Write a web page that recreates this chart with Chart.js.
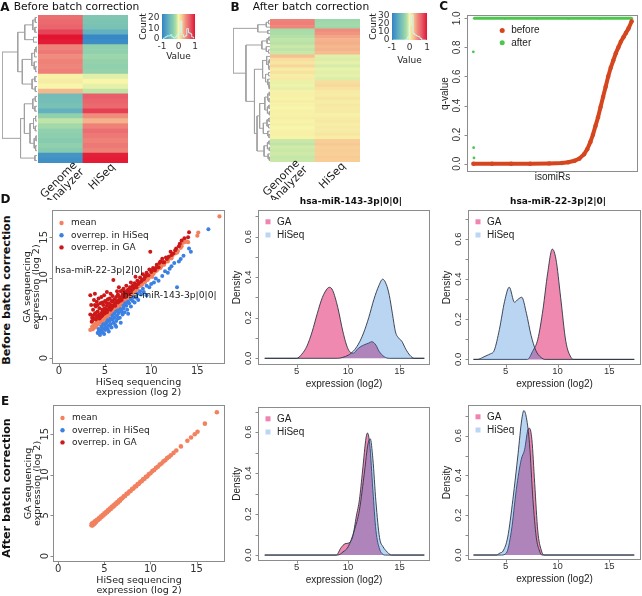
<!DOCTYPE html>
<html>
<head>
<meta charset="utf-8">
<title>Batch correction of isomiR expression</title>
<script src="https://cdn.jsdelivr.net/npm/chart.js@4.4.1/dist/chart.umd.min.js"></script>
<style>
  html, body { margin: 0; padding: 0; background: #fff; }
  #fig { position: relative; width: 642px; height: 596px; overflow: hidden; background: #fff; }
  #fig canvas { position: absolute; }
  .lbl { position: absolute; white-space: nowrap; color: #111; line-height: 1; }
</style>
</head>
<body>
<div id="fig"></div>
<script>
// ---------- data ----------

// heatmaps: scaled value per isomiR row (top to bottom), one array per sequencer
const heatCols = ['Genome Analyzer', 'HiSeq'];
const heatA_GA    = [0.6, 0.62, 0.65, 0.8, 1.0, 0.97, 0.5, 0.55, 0.45, 0.5, 0.48, 0.52, 0.02, 0.05, 0.0, 0.28,
                     -0.5, -0.48, -0.45, -0.62, -0.3, -0.12, -0.22, -0.3, -0.32, -0.35, -0.3, -0.35, -0.85, -0.88];
const heatA_HiSeq = [-0.4, -0.42, -0.45, -0.62, -0.95, -0.92, -0.3, -0.3, -0.25, -0.28, -0.3, -0.28, -0.05, 0.0, -0.04, -0.12,
                     0.68, 0.65, 0.62, 0.82, 0.45, 0.3, 0.5, 0.6, 0.55, 0.5, 0.55, 0.5, 0.95, 0.97];
const heatB_GA    = [0.5, 0.52, 0.48, -0.2, -0.18, -0.15, -0.12, -0.14, -0.1, -0.12, -0.1, 0.25, 0.12, 0.08, 0.15,
                     0.05, 0.1, 0.04, 0.06, -0.03, -0.02, -0.04, 0.02, 0.03, 0.01, 0.04, 0.02, 0.0, 0.03, 0.02,
                     0.04, 0.01, 0.03, 0.0, 0.02, 0.03, 0.01, -0.1, -0.12, -0.08, -0.1, -0.09, -0.11, -0.1];
const heatB_HiSeq = [-0.25, -0.22, -0.24, 0.45, 0.42, 0.35, 0.3, 0.32, 0.28, 0.3, 0.27, -0.05, -0.06, -0.04, -0.07,
                     -0.03, -0.05, -0.04, -0.06, 0.12, 0.14, 0.1, 0.06, 0.05, 0.08, 0.04, 0.07, 0.05, 0.06, 0.03,
                     0.05, 0.07, 0.04, 0.06, 0.05, 0.08, 0.04, 0.2, 0.22, 0.18, 0.2, 0.19, 0.21, 0.2];

// row dendrograms: [height, left, right], numbers are row indices
const treeA = [1,
  [0.55,
    [0.35, [0.12, [0.05, 0, 1], [0.06, 2, 3]], [0.1, 4, 5]],
    [0.42,
      [0.15, [0.07, [0.03, 6, 7], 8], [0.08, 9, [0.04, 10, 11]]],
      [0.14, [0.06, 12, 13], [0.05, 14, 15]]]],
  [0.47,
    [0.36,
      [0.12, [0.05, 16, 17], [0.06, 18, 19]],
      [0.2, [0.1, [0.04, 20, 21], [0.05, 22, 23]], [0.08, [0.03, 24, 25], [0.04, 26, 27]]]],
    [0.06, 28, 29]]];
const treeB = [1,
  [0.33, [0.1, [0.04, 0, 1], 2], [0.06, 3, 4]],
  [0.65,
    [0.22, [0.08, [0.03, 5, 6], 7], [0.1, 8, [0.04, 9, 10]]],
    [0.42,
      [0.2,
        [0.09, 11, [0.05, [0.02, 12, 13], [0.03, 14, 15]]],
        [0.12, [0.04, 16, 17], [0.06, 18, [0.03, 19, [0.02, 20, 21]]]]],
      [0.35,
        [0.28,
          [0.14, [0.06, [0.02, 22, 23], [0.03, 24, 25]], [0.07, [0.03, 26, 27], [0.02, 28, 29]]],
          [0.18, [0.08, [0.03, 30, 31], [0.04, 32, 33]], [0.06, 34, [0.03, 35, 36]]]],
        [0.16, [0.07, [0.03, 37, 38], [0.02, 39, 40]], [0.05, 41, [0.02, 42, 43]]]]]]];

// colour key histograms
const keyBins = [-0.95, -0.85, -0.75, -0.65, -0.55, -0.45, -0.35, -0.25, -0.15, -0.05,
                 0.05, 0.15, 0.25, 0.35, 0.45, 0.55, 0.65, 0.75, 0.85, 0.95];
const keyA_counts = [0, 1, 2, 3, 3, 4, 2, 1, 2, 4, 6, 17, 4, 2, 3, 10, 6, 5, 2, 1];
const keyB_counts = [0, 0, 0, 0, 0, 0, 0, 0, 1, 4, 18, 31, 8, 6, 5, 4, 2, 0, 0, 0];
const keyA_ticks = [0, 10, 20];
const keyB_ticks = [0, 10, 20, 30];
const keyX_ticks = [-1, 0, 1];

// panel C: q-values per isomiR (sorted)
const qIndex  = [1, 60, 120, 180, 240, 280, 300, 320, 335, 350, 360, 370, 378, 386, 394, 402, 410, 418,
                 426, 434, 442, 450, 458, 466, 474, 482, 490, 500];
const qBefore = [0.0, 0.0, 0.0, 0.0, 0.002, 0.005, 0.01, 0.02, 0.035, 0.065, 0.1, 0.15, 0.2, 0.26, 0.32,
                 0.39, 0.46, 0.53, 0.6, 0.66, 0.71, 0.76, 0.8, 0.84, 0.87, 0.9, 0.93, 0.98];
const qAfterIndex = [1, 2, 3, 4, 100, 200, 300, 400, 500];
const qAfter      = [0.77, 0.11, 0.04, 1, 1, 1, 1, 1, 1];
const qTicks = [0, 0.2, 0.4, 0.6, 0.8, 1.0];

// panel D/E scatter: [HiSeq log2, GA log2]
const scatterD_mean = [[3.4,3.5],[3.6,3.9],[3.7,3.6],[3.8,4.1],[3.9,3.8],[4.0,4.3],[4.0,3.9],[4.1,4.1],[4.2,4.5],
  [4.3,4.2],[4.4,4.6],[4.5,4.4],[4.6,4.8],[4.7,4.5],[4.8,5.0],[4.9,4.8],[5.0,5.2],[5.1,4.9],[5.2,5.4],[5.3,5.1],
  [5.4,5.6],[5.5,5.4],[5.6,5.8],[5.7,5.5],[5.8,6.0],[5.9,5.8],[6.0,6.2],[6.1,6.0],[6.2,6.4],[6.3,6.2],[6.4,6.6],
  [6.5,6.4],[6.6,6.8],[6.7,6.6],[6.8,7.0],[6.9,6.9],[7.0,7.2],[7.1,7.1],[7.2,7.4],[7.3,7.3],[7.4,7.6],[7.5,7.5],
  [7.6,7.8],[7.7,7.7],[7.8,8.0],[7.9,7.9],[8.0,8.3],[8.1,8.1],[8.2,8.5],[8.3,8.3],[8.4,8.7],[8.5,8.6],[8.6,8.9],
  [8.8,9.0],[8.9,9.3],[9.0,9.1],[9.2,9.5],[9.3,9.4],[9.5,9.8],[9.6,9.7],[9.8,10.1],[10.0,10.3],[10.1,10.1],
  [10.3,10.6],[10.5,10.8],[10.7,11.0],[10.9,11.3],[11.1,11.4],[11.3,11.7],[11.5,11.9],[11.7,12.1],[11.9,12.3],
  [12.1,12.5],[12.3,12.7],[12.6,13.0],[12.9,13.3],[13.2,13.7],[13.4,14.3],[13.6,14.4],[13.8,14.5],[14.0,14.4],
  [15.0,15.2],[15.1,15.6],[17.4,17.6],
  [3.6,3.6],[3.9,4.0],[4.1,4.3],[4.3,4.5],[4.5,4.7],[4.7,4.9],[4.9,5.1],[5.1,5.3],[5.3,5.5],[5.5,5.7],[5.7,5.9],
  [5.9,6.1],[6.1,6.3],[6.3,6.5],[6.5,6.7],[6.7,6.9],[6.9,7.1],[7.1,7.3],[7.3,7.5],[7.5,7.7],[7.7,7.9],[7.9,8.1],
  [8.1,8.4],[8.3,8.6],[8.5,8.8],[8.7,9.0],[9.0,9.3],[9.4,9.6],[9.7,9.9],[10.2,10.4],[10.6,10.9],[11.0,11.2],
  [11.4,11.6],[11.8,12.0],[12.2,12.4],[12.8,13.1],[13.3,13.9]];
const scatterD_hiseq = [[4.2,3.1],[4.3,3.6],[4.4,3.0],[4.45,2.85],[4.5,3.4],[4.6,3.9],[4.7,3.2],[4.8,3.7],[4.9,3.0],
  [5.0,4.1],[5.0,3.5],[5.1,3.8],[5.2,4.4],[5.3,3.6],[5.4,4.0],[5.4,3.3],[5.5,4.6],[5.6,4.2],[5.7,3.8],[5.8,4.8],
  [5.9,4.4],[6.0,5.0],[6.1,4.1],[6.2,4.6],[6.2,3.9],[6.3,5.3],[6.4,4.9],[6.5,5.6],[6.6,5.0],[6.7,4.4],[6.8,5.8],
  [6.9,5.4],[7.0,6.2],[7.1,5.7],[7.3,6.5],[7.4,6.0],[7.5,5.5],[7.6,6.8],[7.8,6.4],[8.0,7.1],[8.2,6.9],[8.4,7.5],
  [8.6,7.2],[8.9,7.9],[9.2,8.2],[9.5,7.8],[9.8,8.8],[10.3,9.4],[10.8,9.6],[11.2,10.2],[11.8,10.6],[12.2,11.4],
  [12.5,11.8],[12.8,8.8],[13.2,12.3],[13.5,12.7],[14.1,13.6],[14.3,13.2],[16.2,16.0],
  [4.3,3.3],[4.6,3.5],[4.8,4.2],[5.1,4.4],[5.3,4.7],[5.6,4.9],[5.8,5.3],[6.0,5.5],[6.2,5.8],[6.4,5.9],[6.7,6.1],
  [7.0,6.5],[7.2,6.8],[7.5,7.0],[7.8,7.3],[8.1,7.6],[8.5,8.0],[8.8,8.3],[9.1,8.6],[9.5,9.0],[10.0,9.2],[10.5,9.9],
  [11.5,10.8],[12.0,11.1],[13.0,12.0]];
const scatterD_ga = [[3.4,7.8],[3.5,6.6],[3.4,5.4],[3.55,4.5],[3.6,5.0],[3.7,6.0],[3.8,7.2],[3.9,8.0],[3.9,5.5],
  [4.0,4.8],[4.0,6.4],[4.1,5.2],[4.1,7.0],[4.2,5.8],[4.3,7.4],[4.3,5.3],[4.4,5.4],[4.4,6.2],[4.5,5.1],[4.5,6.8],
  [4.6,5.6],[4.6,7.6],[4.7,5.3],[4.7,6.0],[4.8,5.8],[4.8,6.6],[4.9,5.5],[4.9,7.8],[5.0,6.2],[5.0,7.1],[5.0,5.6],
  [5.1,5.8],[5.2,6.5],[5.2,8.2],[5.3,6.0],[5.4,6.8],[5.5,6.3],[5.5,7.4],[5.6,6.6],[5.6,8.0],[5.7,6.2],[5.8,7.0],
  [5.8,6.4],[5.9,6.5],[5.9,9.7],[6.0,7.3],[6.0,6.6],[6.1,6.8],[6.2,7.6],[6.3,7.0],[6.4,7.9],[6.5,7.2],[6.5,8.8],
  [6.6,7.6],[6.7,8.3],[6.8,7.5],[6.9,7.9],[7.0,8.6],[7.0,7.6],[7.1,7.7],[7.2,8.2],[7.3,9.0],[7.4,8.0],[7.5,8.5],
  [7.6,8.2],[7.7,8.8],[7.8,9.4],[7.9,8.5],[8.0,9.0],[8.1,8.7],[8.2,9.3],[8.3,10.1],[8.4,9.1],[8.5,9.6],[8.7,9.4],
  [8.8,10.0],[9.0,9.7],[9.1,10.4],[9.3,10.0],[9.5,10.6],[9.6,10.3],[9.8,11.0],[9.9,13.2],[10.0,10.7],[10.2,11.2],
  [10.4,10.9],[10.6,11.6],[10.8,11.3],[11.0,12.0],[11.2,12.35],[11.4,11.9],[11.6,12.5],[11.9,12.6],[12.1,13.2],
  [12.4,13.0],[12.7,13.6],[13.0,13.9],[13.3,14.6],[14.0,15.0],[14.1,15.65],
  [3.6,4.6],[3.7,5.3],[3.8,4.9],[3.9,6.6],[4.0,5.6],[4.2,5.0],[4.2,6.6],[4.4,4.9],[4.6,5.2],[4.7,6.9],[4.9,6.1],
  [5.1,6.9],[5.2,5.7],[5.3,7.3],[5.4,6.1],[5.6,6.0],[5.7,7.1],[5.8,7.7],[6.1,6.5],[6.2,7.1],[6.3,8.3],[6.4,6.9],
  [6.6,7.1],[6.8,7.2],[6.9,8.4],[7.1,8.0],[7.2,7.6],[7.4,8.4],[7.6,7.9],[7.8,8.2],[8.0,8.6],[8.2,8.9],[8.4,8.8],
  [8.6,9.2],[8.9,9.5],[9.2,9.8],[9.4,10.2],[9.7,10.3],[10.1,10.9],[10.5,11.2],[10.9,11.8],[11.3,11.9],[11.7,12.3],
  [12.2,12.8],[12.6,13.4],[13.1,14.2],[13.6,14.9]];
const scatterE_mean = [[3.6,3.8],[3.65,4.0],[3.7,3.75],[3.75,3.95],[3.8,4.1],[3.85,3.9],[3.9,4.15],[3.95,4.0],
  [4.0,4.3],[4.1,4.2],[4.2,4.45],[4.3,4.4],[4.4,4.65],[4.5,4.6],[4.6,4.85],[4.7,4.8],[4.8,5.05],[4.9,5.0],
  [5.0,5.25],[5.1,5.2],[5.2,5.45],[5.3,5.4],[5.4,5.65],[5.5,5.6],[5.6,5.85],[5.7,5.8],[5.8,6.05],[5.9,6.0],
  [6.0,6.25],[6.1,6.2],[6.2,6.45],[6.3,6.4],[6.4,6.65],[6.5,6.6],[6.6,6.85],[6.7,6.8],[6.8,7.05],[6.95,7.1],
  [7.1,7.35],[7.25,7.4],[7.4,7.65],[7.55,7.7],[7.7,7.95],[7.85,8.0],[8.0,8.25],[8.15,8.3],[8.3,8.55],[8.45,8.6],
  [8.6,8.85],[8.75,8.9],[8.9,9.15],[9.05,9.2],[9.2,9.45],[9.35,9.5],[9.5,9.75],[9.65,9.8],[9.8,10.05],[10.0,10.2],
  [10.2,10.45],[10.4,10.6],[10.6,10.85],[10.8,11.0],[11.0,11.25],[11.2,11.4],[11.4,11.65],[11.6,11.8],[11.8,12.05],
  [12.0,12.2],[12.2,12.4],[12.5,12.7],[12.8,13.0],[13.3,13.5],[14.0,14.2],[14.4,14.6],[14.8,15.0],[15.1,15.3],
  [15.9,16.3],[17.2,17.7]];
const scatterTicks = [0, 5, 10, 15];
const scatterNotes = [
  { text: 'hsa-miR-22-3p|2|0|', x: 4.35, y: 10.9 },
  { text: 'hsa-miR-143-3p|0|0|', x: 12.0, y: 7.8 }
];

// density curves: [expression log2, density]
const dens143_GA    = [[1.9,0],[5.0,0],[5.5,0.02],[6,0.06],[6.5,0.13],[7,0.22],[7.5,0.3],[8,0.345],[8.2,0.35],
  [8.5,0.335],[9,0.25],[9.5,0.13],[10,0.045],[10.5,0.025],[11,0.05],[11.5,0.065],[12,0.075],[12.3,0.082],
  [12.7,0.065],[13,0.035],[13.5,0.008],[14,0],[17.4,0]];
const dens143_HiSeq = [[1.9,0],[9,0],[9.5,0.005],[10,0.015],[10.5,0.035],[11,0.07],[11.5,0.125],[12,0.2],
  [12.5,0.29],[13,0.36],[13.35,0.39],[13.7,0.365],[14,0.31],[14.3,0.22],[14.6,0.13],[14.9,0.1],[15.2,0.085],
  [15.6,0.045],[16,0.015],[16.4,0],[17.4,0]];
const dens22_GA     = [[1.9,0],[7.1,0],[7.6,0.04],[8.1,0.1],[8.6,0.25],[9.05,0.43],[9.5,0.55],[9.85,0.5],
  [10.3,0.31],[10.8,0.09],[11.3,0.01],[11.6,0],[17.4,0]];
const dens22_HiSeq  = [[1.9,0],[2.3,0],[2.8,0.01],[3.2,0.02],[3.5,0.027],[3.9,0.045],[4.4,0.15],[4.9,0.29],
  [5.35,0.36],[5.85,0.285],[6.2,0.3],[6.55,0.31],[7.0,0.23],[7.45,0.12],[7.9,0.045],[8.4,0.01],[8.8,0],[17.4,0]];
const dens143E_GA    = [[1.9,0],[8.85,0],[9.3,0.035],[9.7,0.055],[10.1,0.06],[10.45,0.09],[10.8,0.19],[11.1,0.27],
  [11.4,0.41],[11.75,0.575],[11.88,0.595],[12.1,0.54],[12.4,0.32],[12.7,0.12],[13.05,0.03],[13.4,0.003],[13.6,0],[17.4,0]];
const dens143E_HiSeq = [[1.9,0],[9.0,0],[9.5,0.015],[10.0,0.04],[10.6,0.12],[11.1,0.22],[11.6,0.41],[11.92,0.54],
  [12.15,0.567],[12.4,0.47],[12.7,0.26],[13.05,0.085],[13.4,0.04],[13.7,0.02],[14.2,0],[17.4,0]];
const dens22E_GA     = [[1.9,0],[4.6,0],[5.07,0.01],[5.55,0.12],[6.03,0.33],[6.5,0.48],[6.83,0.53],[7.15,0.63],
  [7.3,0.637],[7.53,0.58],[7.8,0.36],[8.1,0.12],[8.43,0.025],[8.7,0],[17.4,0]];
const dens22E_HiSeq  = [[1.9,0],[4.1,0],[4.45,0.01],[4.75,0.02],[5.2,0.09],[5.7,0.28],[6.2,0.51],[6.55,0.68],
  [6.76,0.726],[7.0,0.69],[7.3,0.56],[7.63,0.28],[7.95,0.09],[8.27,0.02],[8.5,0],[17.4,0]];
const densXTicks = [5, 10, 15];
const densYTicks = [0, 0.1, 0.2, 0.3, 0.4, 0.5, 0.6, 0.7];
const densYLabels = [0, 0.2, 0.4, 0.6];

// ---------- styles ----------
const RED_Q = '#D5461E', GREEN_Q = '#4CC64C';
const MEAN_C = '#F2815F', HISEQ_C = '#3B80E2', GA_C = '#CC1818';
const GA_FILL = 'rgba(228,40,110,0.55)', HS_FILL = 'rgba(40,125,215,0.32)';
const GA_SWATCH = '#F084AF', HS_SWATCH = '#BAD6F3';
const FRAME = '#8c8c8c';
const heatStops = [
  [-1, [49, 130, 200]], [-0.6, [102, 178, 190]], [-0.35, [134, 203, 175]], [-0.15, [178, 224, 166]],
  [0, [247, 246, 170]], [0.2, [248, 205, 150]], [0.45, [240, 140, 125]], [0.7, [232, 90, 105]], [1, [226, 20, 48]]
];

function heatColor(v) {
  for (let i = 1; i < heatStops.length; i++) {
    if (v <= heatStops[i][0]) {
      const [v0, c0] = heatStops[i - 1];
      const [v1, c1] = heatStops[i];
      const t = Math.max(0, (v - v0) / (v1 - v0));
      return 'rgb(' + c0.map((c, k) => Math.round(c + (c1[k] - c) * t)).join(',') + ')';
    }
  }
  return 'rgb(' + heatStops[heatStops.length - 1][1].join(',') + ')';
}

const fig = document.getElementById('fig');

function txt(ctx, s, x, y, font, color, rot, align) {
  ctx.save();
  ctx.translate(x, y);
  if (rot) ctx.rotate(rot);
  ctx.font = font;
  ctx.fillStyle = color || '#222';
  ctx.textAlign = align || 'center';
  ctx.textBaseline = 'middle';
  ctx.fillText(s, 0, 0);
  ctx.restore();
}

function addText(s, cx, cy, font, rot) {
  const d = document.createElement('div');
  d.className = 'lbl';
  d.textContent = s;
  d.style.font = font;
  d.style.lineHeight = '1';
  d.style.left = cx + 'px';
  d.style.top = cy + 'px';
  d.style.transform = 'translate(-50%,-50%)' + (rot ? ' rotate(' + rot + 'deg)' : '');
  fig.appendChild(d);
}

// canvas rect [left, top, w, h] and plot box [x0, y0, x1, y1] in page pixels
function makeChart(rect, box, config) {
  const cv = document.createElement('canvas');
  cv.width = rect[2];
  cv.height = rect[3];
  cv.style.left = rect[0] + 'px';
  cv.style.top = rect[1] + 'px';
  cv.style.width = rect[2] + 'px';
  cv.style.height = rect[3] + 'px';
  fig.appendChild(cv);
  const opts = config.options || {};
  opts.responsive = false;
  opts.animation = false;
  opts.devicePixelRatio = 1;
  opts.events = [];
  opts.layout = { padding: {
    left: box[0] - rect[0], top: box[1] - rect[1],
    right: rect[0] + rect[2] - box[2], bottom: rect[1] + rect[3] - box[3]
  } };
  opts.plugins = Object.assign({ legend: { display: false }, tooltip: { enabled: false }, title: { display: false } },
    opts.plugins || {});
  config.options = opts;
  return new Chart(cv, config);
}

function lin(min, max, reverse) {
  return { type: 'linear', min: min, max: max, reverse: !!reverse, display: false };
}

// R-style frame, ticks, labels, legend
function rAxes(o) {
  return {
    id: 'rAxes',
    afterDraw(chart) {
      const ctx = chart.ctx, a = chart.chartArea;
      const sx = chart.scales.x, sy = chart.scales.y;
      const L = Math.round(a.left) + 0.5, R = Math.round(a.right) - 0.5;
      const T = Math.round(a.top) + 0.5, B = Math.round(a.bottom) - 0.5;
      ctx.save();
      ctx.strokeStyle = FRAME;
      ctx.lineWidth = 1;
      ctx.strokeRect(L, T, R - L, B - T);
      ctx.beginPath();
      (o.xTicks || []).forEach(v => {
        const p = Math.round(sx.getPixelForValue(v)) + 0.5;
        ctx.moveTo(p, B); ctx.lineTo(p, B + 3);
      });
      (o.yTicks || []).forEach(v => {
        const p = Math.round(sy.getPixelForValue(v)) + 0.5;
        ctx.moveTo(L, p); ctx.lineTo(L - 3, p);
      });
      ctx.stroke();
      (o.xLabels || []).forEach(v => txt(ctx, o.fmt(v), sx.getPixelForValue(v), B + o.xLabOff, o.tickFont, '#333'));
      (o.yLabels || []).forEach(v => txt(ctx, o.fmt(v), L - o.yLabOff, sy.getPixelForValue(v), o.tickFont, '#333', -Math.PI / 2));
      (o.xTitle || []).forEach(t => txt(ctx, t[0], (a.left + a.right) / 2, B + t[1], o.titleFont, '#222'));
      (o.yTitle || []).forEach(t => txt(ctx, t[0], L - t[1], (a.top + a.bottom) / 2, o.titleFont, '#222', -Math.PI / 2));
      if (o.legend) {
        const lg = o.legend;
        lg.items.forEach((it, i) => {
          const y = T + lg.y + i * lg.dy;
          ctx.fillStyle = it.color;
          if (lg.shape === 'square') ctx.fillRect(L + lg.x - 2.5, y - 2.5, 5, 5);
          else { ctx.beginPath(); ctx.arc(L + lg.x, y, lg.r, 0, Math.PI * 2); ctx.fill(); }
          txt(ctx, it.label, L + lg.tx, y, lg.font, '#222', 0, 'left');
        });
      }
      (o.notes || []).forEach(n => txt(ctx, n.text, sx.getPixelForValue(n.x), sy.getPixelForValue(n.y), o.noteFont, '#1a1a1a'));
      ctx.restore();
    }
  };
}

// ---------- panels A / B: dendrogram, heatmap, colour key ----------
function dendroPoints(tree) {
  const pts = [];
  function walk(node) {
    if (typeof node === 'number') return { y: node, h: 0 };
    const l = walk(node[1]), r = walk(node[2]);
    pts.push({ x: l.h, y: l.y }, { x: node[0], y: l.y }, { x: node[0], y: r.y }, { x: r.h, y: r.y }, { x: null, y: null });
    return { y: (l.y + r.y) / 2, h: node[0] };
  }
  walk(tree);
  return pts;
}

function dendrogram(rect, box, tree, n) {
  makeChart(rect, box, {
    type: 'line',
    data: { datasets: [{ data: dendroPoints(tree), borderColor: '#a0a0a0', borderWidth: 1, pointRadius: 0, spanGaps: false }] },
    options: { scales: { x: lin(0, 1, true), y: lin(-0.5, n - 0.5, true) } }
  });
}

function heatmap(rect, box, ga, hs, colLabels) {
  const n = ga.length;
  const datasets = [];
  for (let i = n - 1; i >= 0; i--) {
    datasets.push({ data: [1, 1], backgroundColor: [heatColor(ga[i]), heatColor(hs[i])],
      borderWidth: 0, barPercentage: 1, categoryPercentage: 1 });
  }
  makeChart(rect, box, {
    type: 'bar',
    data: { labels: heatCols, datasets: datasets },
    options: {
      scales: { x: { stacked: true, display: false }, y: { stacked: true, display: false, min: 0, max: n } }
    },
    plugins: [{
      id: 'colLabels',
      afterDraw(chart) {
        const ctx = chart.ctx, sx = chart.scales.x, b = chart.chartArea.bottom;
        colLabels.forEach(c => c.lines.forEach(ln => {
          txt(ctx, ln[0], sx.getPixelForValue(c.col) + ln[1], b + ln[2], '11px "DejaVu Sans"', '#1a1a1a', -Math.PI / 4);
        }));
      }
    }]
  });
}

function colourKey(rect, box, counts, ymax, yTicks, valueOff) {
  makeChart(rect, box, {
    type: 'line',
    data: { datasets: [{ data: keyBins.map((b, i) => ({ x: b, y: counts[i] })), stepped: 'middle',
      borderColor: 'rgba(200,255,255,0.9)', borderWidth: 1, pointRadius: 0 }] },
    options: { scales: { x: lin(-1, 1), y: lin(0, ymax) } },
    plugins: [{
      id: 'keyPaint',
      beforeDatasetsDraw(chart) {
        const ctx = chart.ctx, a = chart.chartArea;
        const g = ctx.createLinearGradient(a.left, 0, a.right, 0);
        heatStops.forEach(s => g.addColorStop((s[0] + 1) / 2, 'rgb(' + s[1].join(',') + ')'));
        ctx.fillStyle = g;
        ctx.fillRect(a.left, a.top, a.right - a.left, a.bottom - a.top);
      },
      afterDraw(chart) {
        const ctx = chart.ctx, a = chart.chartArea, sx = chart.scales.x, sy = chart.scales.y;
        const f = '9px "DejaVu Sans"';
        yTicks.forEach(v => txt(ctx, String(v), a.left - 2.5, sy.getPixelForValue(v), f, '#333', 0, 'right'));
        keyX_ticks.forEach(v => txt(ctx, String(v), sx.getPixelForValue(v), a.bottom + 7.5, f, '#333'));
        txt(ctx, 'Count', a.left - 18, (a.top + a.bottom) / 2, f, '#222', -Math.PI / 2);
        txt(ctx, 'Value', (a.left + a.right) / 2, a.bottom + valueOff, f, '#222');
      }
    }]
  });
}

dendrogram([0, 10, 40, 160], [2, 15, 37, 163], treeA, heatA_GA.length);
heatmap([20, 10, 130, 190], [38, 15, 128, 163], heatA_GA, heatA_HiSeq, [
  { col: 0, lines: [['Genome', -1.5, 17], ['Analyzer', 5, 24.5]] },
  { col: 1, lines: [['HiSeq', -3.5, 14]] }
]);
colourKey([128, 0, 84, 68], [162, 14, 195, 39], keyA_counts, 23.8, keyA_ticks, 18);

dendrogram([228, 10, 45, 160], [233, 19, 270, 162], treeB, heatB_GA.length);
heatmap([250, 10, 125, 190], [270, 19, 360, 162], heatB_GA, heatB_HiSeq, [
  { col: 0, lines: [['Genome', -11, 16], ['Analyzer', -3.5, 23]] },
  { col: 1, lines: [['HiSeq', -5, 14]] }
]);
colourKey([358, 0, 80, 70], [392, 13, 427, 40], keyB_counts, 33.3, keyB_ticks, 21);

// ---------- panel C ----------
makeChart([425, 0, 217, 192], [467, 15, 638, 172], {
  type: 'scatter',
  data: { datasets: [
    { data: qBefore.map((q, i) => ({ x: qIndex[i], y: q })), showLine: true, borderColor: RED_Q, borderWidth: 4,
      pointRadius: 2.2, pointBackgroundColor: RED_Q, pointBorderWidth: 0 },
    { data: qAfter.map((q, i) => ({ x: qAfterIndex[i], y: q })).filter(p => p.y >= 0.99), showLine: true,
      borderColor: GREEN_Q, borderWidth: 3, pointRadius: 0 },
    { data: qAfter.map((q, i) => ({ x: qAfterIndex[i], y: q })), pointRadius: 1.4,
      pointBackgroundColor: GREEN_Q, pointBorderWidth: 0 }
  ] },
  options: { scales: { x: lin(1 - 0.04 * 499, 500 + 0.04 * 499), y: lin(-0.057, 1.023) } },
  plugins: [rAxes({
    yTicks: qTicks, yLabels: qTicks, fmt: v => v.toFixed(1), yLabOff: 10,
    tickFont: '10px "Liberation Sans"', titleFont: '10px "Liberation Sans"',
    xTitle: [['isomiRs', 6]], yTitle: [['q-value', 22]],
    legend: { x: 34.7, y: 15, dy: 12.3, r: 2.5, tx: 43.7, font: '10px "Liberation Sans"',
      items: [{ label: 'before', color: RED_Q }, { label: 'after', color: GREEN_Q }] }
  })]
});

// ---------- panels D / E ----------
function scatterPanel(rect, box, xr, yr, sets, notes) {
  makeChart(rect, box, {
    type: 'scatter',
    data: { datasets: sets.map(s => ({ data: s.data.map(p => ({ x: p[0], y: p[1] })), pointRadius: s.r,
      pointBackgroundColor: s.color, pointBorderWidth: 0 })) },
    options: { scales: { x: lin(xr[0], xr[1]), y: lin(yr[0], yr[1]) } },
    plugins: [rAxes({
      xTicks: scatterTicks, yTicks: scatterTicks, xLabels: scatterTicks, yLabels: scatterTicks, fmt: v => String(v),
      xLabOff: 8, yLabOff: 8.5, tickFont: '10px "DejaVu Sans"', titleFont: '9.5px "DejaVu Sans"',
      xTitle: [['HiSeq sequencing', 19], ['expression (log 2)', 29.5]],
      yTitle: [['GA sequencing', 25], ['expression (log 2)', 16]],
      legend: { x: 9, y: 12.5, dy: 12.2, r: 2.2, tx: 18.5, font: '9px "DejaVu Sans"',
        items: [{ label: 'mean', color: MEAN_C }, { label: 'overrep. in HiSeq', color: HISEQ_C },
          { label: 'overrep. in GA', color: GA_C }] },
      notes: notes, noteFont: '9.2px "DejaVu Sans"'
    })]
  });
}

function densityPanel(rect, box, xr, yr, ga, hs) {
  const line = { borderColor: '#2b3445', borderWidth: 0.9, pointRadius: 0, fill: 'origin', cubicInterpolationMode: 'monotone' };
  makeChart(rect, box, {
    type: 'line',
    data: { datasets: [
      Object.assign({ data: hs.map(p => ({ x: p[0], y: p[1] })), backgroundColor: HS_FILL }, line),
      Object.assign({ data: ga.map(p => ({ x: p[0], y: p[1] })), backgroundColor: GA_FILL }, line)
    ] },
    options: { scales: { x: lin(xr[0], xr[1]), y: lin(yr[0], yr[1]) } },
    plugins: [rAxes({
      xTicks: densXTicks, yTicks: densYTicks, xLabels: densXTicks, yLabels: densYLabels,
      fmt: v => (v < 1 ? v.toFixed(1) : String(v)), xLabOff: 7, yLabOff: 10,
      tickFont: '9.5px "Liberation Sans"', titleFont: '10px "Liberation Sans"',
      xTitle: [['expression (log2)', 19.5]], yTitle: [['Density', 21.5]],
      legend: { shape: 'square', x: 9.5, y: 11.3, dy: 13.2, tx: 18.5, font: '10px "Liberation Sans"',
        items: [{ label: 'GA', color: GA_SWATCH }, { label: 'HiSeq', color: HS_SWATCH }] }
    })]
  });
}

scatterPanel([15, 200, 215, 200], [52, 210, 225, 364], [-0.75, 18.0], [-0.74, 18.4], [
  { data: scatterD_ga, color: GA_C, r: 2.0 },
  { data: scatterD_hiseq, color: HISEQ_C, r: 2.0 },
  { data: scatterD_mean, color: MEAN_C, r: 2.1 }
], scatterNotes);
densityPanel([225, 195, 207, 200], [258, 210, 430, 365], [1.25, 17.95], [-0.033, 0.731], dens143_GA, dens143_HiSeq);
densityPanel([432, 195, 210, 200], [468, 210, 641, 365], [1.37, 18.05], [-0.028, 0.745], dens22_GA, dens22_HiSeq);

scatterPanel([15, 396, 215, 200], [53, 405, 225, 562], [-0.57, 18.08], [-0.74, 18.6], [
  { data: scatterE_mean, color: MEAN_C, r: 2.3 }
], []);
densityPanel([225, 396, 207, 200], [258, 407, 430, 561], [1.25, 17.95], [-0.029, 0.722], dens143E_GA, dens143E_HiSeq);
densityPanel([432, 396, 210, 200], [468, 405, 641, 560], [1.37, 18.05], [-0.025, 0.754], dens22E_GA, dens22E_HiSeq);

// ---------- titles ----------
addText('A', 5, 6.5, 'bold 12px "DejaVu Sans"');
addText('Before batch correction', 76.5, 7, '10.7px "DejaVu Sans"');
addText('B', 235, 6.7, 'bold 12px "DejaVu Sans"');
addText('After batch correction', 311, 7, '10.7px "DejaVu Sans"');
addText('C', 443.7, 6, 'bold 12px "DejaVu Sans"');
addText('D', 5.5, 199, 'bold 12px "DejaVu Sans"');
addText('E', 5, 401, 'bold 12px "DejaVu Sans"');
addText('Before batch correction', 7, 290, 'bold 11.2px "DejaVu Sans"', -90);
addText('After batch correction', 6.5, 487.5, 'bold 11.2px "DejaVu Sans"', -90);
addText('hsa-miR-143-3p|0|0|', 351, 201, 'bold 9px "DejaVu Sans"');
addText('hsa-miR-22-3p|2|0|', 558, 201, 'bold 9px "DejaVu Sans"');
</script>
</body>
</html>
